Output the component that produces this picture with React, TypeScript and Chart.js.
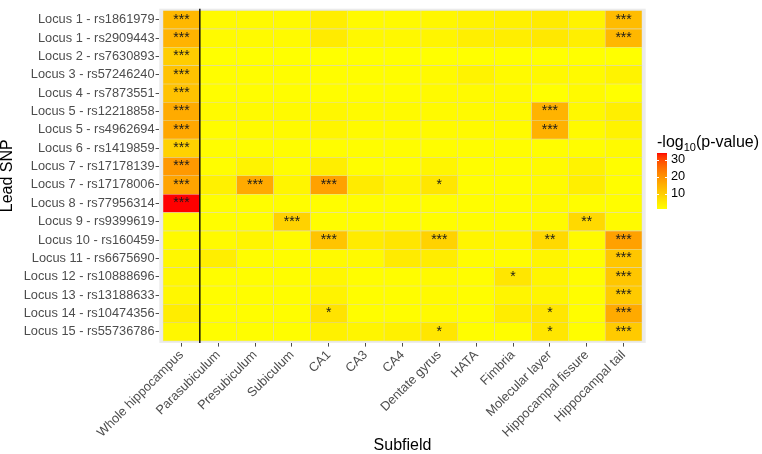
import React, { useEffect, useRef } from 'react';
import { Chart, registerables } from 'chart.js';

Chart.register(...registerables);

const subfields = [
  'Whole hippocampus', 'Parasubiculum', 'Presubiculum', 'Subiculum', 'CA1', 'CA3', 'CA4',
  'Dentate gyrus', 'HATA', 'Fimbria', 'Molecular layer', 'Hippocampal fissure', 'Hippocampal tail',
];

const leadSNPs = [
  'Locus 1 - rs1861979', 'Locus 1 - rs2909443', 'Locus 2 - rs7630893', 'Locus 3 - rs57246240',
  'Locus 4 - rs7873551', 'Locus 5 - rs12218858', 'Locus 5 - rs4962694', 'Locus 6 - rs1419859',
  'Locus 7 - rs17178139', 'Locus 7 - rs17178006', 'Locus 8 - rs77956314', 'Locus 9 - rs9399619',
  'Locus 10 - rs160459', 'Locus 11 - rs6675690', 'Locus 12 - rs10888696', 'Locus 13 - rs13188633',
  'Locus 14 - rs10474356', 'Locus 15 - rs55736786',
];

// -log10(p-value), one array per subfield, in leadSNPs order
const wholeHippocampus = [13.7, 14.5, 10.0, 11.9, 11.9, 15.9, 16.5, 9.3, 18.8, 17.0, 34.0, 1.3, 1.8, 2.4, 2.4, 2.4, 4.2, 2.4];
const parasubiculum = [1.8, 1.8, 0.9, 1.3, 1.3, 1.8, 1.5, 1.3, 1.3, 3.5, 1.3, 1.3, 1.8, 4.0, 1.3, 1.3, 1.3, 1.3];
const presubiculum = [1.8, 1.8, 0.9, 1.3, 1.3, 1.8, 1.8, 1.3, 3.0, 16.0, 1.3, 1.3, 2.7, 1.3, 1.3, 1.3, 1.3, 1.3];
const subiculum = [1.8, 1.8, 0.9, 1.3, 1.3, 1.8, 1.8, 1.3, 1.3, 2.7, 1.3, 9.0, 1.8, 1.3, 1.3, 1.3, 1.3, 1.3];
const ca1 = [4.0, 4.5, 0.9, 1.3, 1.3, 2.4, 2.7, 1.3, 4.0, 17.5, 1.3, 1.3, 11.5, 1.8, 2.4, 3.0, 6.0, 3.5];
const ca3 = [1.8, 2.2, 0.9, 1.3, 1.3, 1.8, 1.8, 1.3, 1.3, 4.5, 1.3, 1.3, 4.5, 1.8, 1.3, 1.3, 1.3, 2.7];
const ca4 = [1.8, 2.2, 0.9, 1.3, 1.3, 1.8, 1.8, 1.3, 1.3, 2.7, 1.3, 1.3, 5.5, 4.5, 1.3, 1.3, 1.3, 3.5];
const dentateGyrus = [2.4, 2.7, 0.9, 1.8, 1.8, 1.8, 1.8, 1.3, 2.7, 5.5, 1.3, 1.3, 9.0, 4.2, 1.8, 1.8, 1.8, 5.5];
const hata = [3.1, 3.9, 0.9, 3.1, 1.8, 1.8, 1.8, 1.3, 1.3, 1.3, 1.3, 1.3, 2.7, 1.3, 1.3, 1.3, 1.3, 1.3];
const fimbria = [3.5, 4.0, 0.9, 1.8, 1.8, 1.8, 1.8, 1.3, 1.3, 1.3, 1.3, 1.3, 2.7, 1.3, 5.5, 2.7, 4.2, 1.3];
const molecularLayer = [4.5, 5.0, 0.9, 2.2, 0.9, 14.5, 14.8, 1.3, 1.8, 1.8, 1.8, 1.8, 7.8, 2.7, 2.7, 2.7, 5.5, 5.5];
const hippocampalFissure = [3.1, 3.9, 0.9, 1.8, 1.8, 2.2, 1.8, 1.3, 3.1, 3.9, 1.3, 7.8, 1.8, 1.3, 1.3, 1.3, 1.3, 1.3];
const hippocampalTail = [13.0, 13.8, 0.9, 3.1, 0.9, 3.9, 3.1, 1.8, 1.3, 1.3, 1.3, 1.8, 17.5, 11.2, 11.2, 10.5, 16.0, 10.5];

const subfieldValues = [
  wholeHippocampus, parasubiculum, presubiculum, subiculum, ca1, ca3, ca4,
  dentateGyrus, hata, fimbria, molecularLayer, hippocampalFissure, hippocampalTail,
];

// [leadSNP index, subfield index, label]
const significance: [number, number, string][] = [
  [0, 0, '***'], [0, 12, '***'],
  [1, 0, '***'], [1, 12, '***'],
  [2, 0, '***'], [3, 0, '***'], [4, 0, '***'],
  [5, 0, '***'], [5, 10, '***'],
  [6, 0, '***'], [6, 10, '***'],
  [7, 0, '***'], [8, 0, '***'],
  [9, 0, '***'], [9, 2, '***'], [9, 4, '***'], [9, 7, '*'],
  [10, 0, '***'],
  [11, 3, '***'], [11, 11, '**'],
  [12, 4, '***'], [12, 7, '***'], [12, 10, '**'], [12, 12, '***'],
  [13, 12, '***'],
  [14, 9, '*'], [14, 12, '***'],
  [15, 12, '***'],
  [16, 4, '*'], [16, 10, '*'], [16, 12, '***'],
  [17, 7, '*'], [17, 10, '*'], [17, 12, '***'],
];

const legendBreaks = [10, 20, 30];

// ---- colour scale: yellow -> red interpolated in CIELAB ----
const WX = 0.95047, WY = 1.0, WZ = 1.08883;
const toLin = (c: number) => { c /= 255; return c <= 0.04045 ? c / 12.92 : Math.pow((c + 0.055) / 1.055, 2.4); };
const fromLin = (c: number) => {
  const v = c <= 0.0031308 ? 12.92 * c : 1.055 * Math.pow(Math.max(c, 0), 1 / 2.4) - 0.055;
  return Math.round(Math.min(1, Math.max(0, v)) * 255);
};
const fL = (t: number) => (t > 0.008856 ? Math.cbrt(t) : 7.787 * t + 16 / 116);
const fLinv = (t: number) => (t > 0.206893 ? t * t * t : (t - 16 / 116) / 7.787);
function rgbToLab(r: number, g: number, b: number) {
  const R = toLin(r), G = toLin(g), B = toLin(b);
  const X = 0.4124564 * R + 0.3575761 * G + 0.1804375 * B;
  const Y = 0.2126729 * R + 0.7151522 * G + 0.072175 * B;
  const Z = 0.0193339 * R + 0.119192 * G + 0.9503041 * B;
  const fx = fL(X / WX), fy = fL(Y / WY), fz = fL(Z / WZ);
  return [116 * fy - 16, 500 * (fx - fy), 200 * (fy - fz)];
}
function labToRgb(L: number, a: number, b: number) {
  const fy = (L + 16) / 116, fx = fy + a / 500, fz = fy - b / 200;
  const X = WX * fLinv(fx), Y = WY * fLinv(fy), Z = WZ * fLinv(fz);
  const R = 3.2404542 * X - 1.5371385 * Y - 0.4985314 * Z;
  const G = -0.969266 * X + 1.8760108 * Y + 0.041556 * Z;
  const B = 0.0556434 * X - 0.2040259 * Y + 1.0572252 * Z;
  return `rgb(${fromLin(R)},${fromLin(G)},${fromLin(B)})`;
}
const LOW = rgbToLab(255, 255, 0);
const HIGH = rgbToLab(255, 0, 0);
const allValues = subfieldValues.flat();
const vMin = Math.min(...allValues);
const vMax = Math.max(...allValues);
function colorAt(t: number) {
  const u = Math.min(1, Math.max(0, t));
  return labToRgb(
    LOW[0] + (HIGH[0] - LOW[0]) * u,
    LOW[1] + (HIGH[1] - LOW[1]) * u,
    LOW[2] + (HIGH[2] - LOW[2]) * u,
  );
}
const colorFor = (v: number) => colorAt((v - vMin) / (vMax - vMin));

const FONT = '"Liberation Sans", Arial, Helvetica, sans-serif';

const panelBackground = {
  id: 'panelBackground',
  beforeDatasetsDraw(chart: any) {
    const { ctx, chartArea } = chart;
    ctx.save();
    ctx.fillStyle = '#EBEBEB';
    ctx.fillRect(chartArea.left, chartArea.top, chartArea.right - chartArea.left, chartArea.bottom - chartArea.top);
    ctx.restore();
  },
};

const overlay = {
  id: 'overlay',
  afterDatasetsDraw(chart: any) {
    const { ctx, chartArea, scales } = chart;
    const xs = scales.x, ys = scales.y;
    ctx.save();
    ctx.font = `14px ${FONT}`;
    ctx.fillStyle = '#1a1a1a';
    ctx.textAlign = 'center';
    ctx.textBaseline = 'middle';
    significance.forEach(([r, c, label]) => {
      ctx.fillText(label, xs.getPixelForValue(c), ys.getPixelForValue(r));
    });
    const lx = xs.getPixelForValue(0.5);
    ctx.strokeStyle = '#000';
    ctx.lineWidth = 1.4;
    ctx.beginPath();
    ctx.moveTo(lx, chartArea.top);
    ctx.lineTo(lx, chartArea.bottom);
    ctx.stroke();
    ctx.restore();
  },
};

const colorLegend = {
  id: 'colorLegend',
  afterDraw(chart: any) {
    const { ctx } = chart;
    const x0 = 657;
    const barTop = 153, barH = 56, barW = 10;
    ctx.save();
    ctx.fillStyle = '#000';
    ctx.textBaseline = 'alphabetic';
    ctx.textAlign = 'left';
    ctx.font = `16px ${FONT}`;
    const baseY = 147;
    let x = x0;
    ctx.fillText('-log', x, baseY);
    x += ctx.measureText('-log').width;
    ctx.font = `11px ${FONT}`;
    ctx.fillText('10', x, baseY + 4);
    x += ctx.measureText('10').width;
    ctx.font = `16px ${FONT}`;
    ctx.fillText('(p-value)', x, baseY);
    const grad = ctx.createLinearGradient(0, barTop + barH, 0, barTop);
    for (let i = 0; i <= 30; i++) grad.addColorStop(i / 30, colorAt(i / 30));
    ctx.fillStyle = grad;
    ctx.fillRect(x0, barTop, barW, barH);
    const yFor = (v: number) => barTop + barH - ((v - vMin) / (vMax - vMin)) * barH;
    ctx.strokeStyle = '#fff';
    ctx.lineWidth = 1;
    ctx.font = `12.8px ${FONT}`;
    ctx.fillStyle = '#000';
    ctx.textBaseline = 'middle';
    legendBreaks.forEach((b) => {
      const y = Math.round(yFor(b)) + 0.5;
      ctx.beginPath();
      ctx.moveTo(x0, y); ctx.lineTo(x0 + barW / 5, y);
      ctx.moveTo(x0 + barW - barW / 5, y); ctx.lineTo(x0 + barW, y);
      ctx.stroke();
      ctx.fillText(String(b), x0 + barW + 4, yFor(b));
    });
    ctx.restore();
  },
};

export default function App() {
  const canvasRef = useRef<HTMLCanvasElement | null>(null);

  useEffect(() => {
    if (!canvasRef.current) return;
    const cells: any[] = [];
    subfieldValues.forEach((col, c) => {
      col.forEach((v, r) => cells.push({ x: c, y: [r - 0.5, r + 0.5], v }));
    });

    const chart = new Chart(canvasRef.current, {
      type: 'bar',
      data: {
        datasets: [
          {
            label: '-log10(p-value)',
            data: cells,
            backgroundColor: (ctx: any) => (ctx.raw ? colorFor(ctx.raw.v) : '#ff0'),
            borderColor: 'rgba(190, 170, 40, 0.18)',
            borderWidth: 0.6,
            borderSkipped: false,
            barPercentage: 1,
            categoryPercentage: 1,
          } as any,
        ],
      },
      options: {
        responsive: false,
        animation: false,
        devicePixelRatio: 1,
        layout: { padding: { top: 2.1, right: 116.3, bottom: 0, left: 0 } },
        plugins: { legend: { display: false }, tooltip: { enabled: false } },
        scales: {
          x: {
            type: 'linear',
            offset: false,
            min: -0.6,
            max: subfields.length - 1 + 0.6,
            afterBuildTicks: (s: any) => { s.ticks = subfields.map((_, i) => ({ value: i })); },
            afterFit: (s: any) => { s.height = 454 - 342.9; },
            ticks: {
              autoSkip: false,
              maxRotation: 45,
              minRotation: 45,
              padding: 1,
              color: '#4D4D4D',
              font: { family: FONT, size: 12.8 },
              callback: (_v: any, i: number) => subfields[i],
            },
            grid: { offset: false, drawOnChartArea: false, drawTicks: true, tickLength: 3.7, color: '#4D4D4D' },
            border: { display: false },
            title: {
              display: true,
              text: 'Subfield',
              color: '#000',
              font: { family: FONT, size: 16, lineHeight: 1 },
              padding: { top: 0, bottom: 0 },
            },
          },
          y: {
            type: 'linear',
            reverse: true,
            offset: false,
            min: -0.6,
            max: leadSNPs.length - 1 + 0.6,
            afterBuildTicks: (s: any) => { s.ticks = leadSNPs.map((_, i) => ({ value: i })); },
            afterFit: (s: any) => { s.width = 159.3; },
            ticks: {
              autoSkip: false,
              padding: 1,
              color: '#4D4D4D',
              font: { family: FONT, size: 12.8 },
              callback: (_v: any, i: number) => leadSNPs[i],
            },
            grid: { drawOnChartArea: false, drawTicks: true, tickLength: 3.7, color: '#4D4D4D' },
            border: { display: false },
            title: {
              display: true,
              text: 'Lead SNP',
              color: '#000',
              font: { family: FONT, size: 16, lineHeight: 1 },
              padding: { top: 0, bottom: 0 },
            },
          },
        },
      } as any,
      plugins: [panelBackground, overlay, colorLegend],
    });
    return () => chart.destroy();
  }, []);

  return (
    <div style={{ position: 'absolute', left: 0, top: 0, width: 762, height: 454, background: '#fff' }}>
      <canvas ref={canvasRef} width={762} height={454} style={{ display: 'block', width: 762, height: 454 }} />
    </div>
  );
}
